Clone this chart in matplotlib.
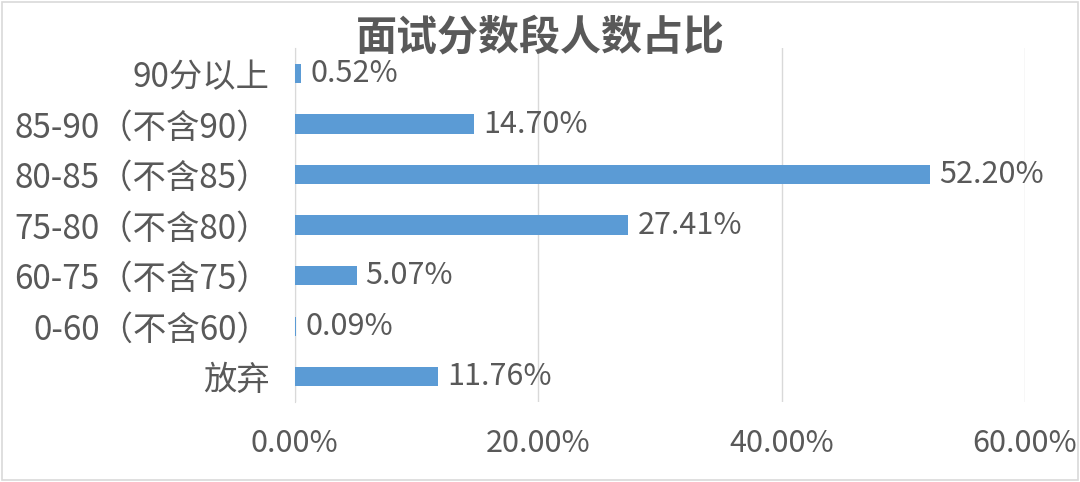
import matplotlib
matplotlib.use("Agg")
import matplotlib.pyplot as plt
from matplotlib.patches import Rectangle

plt.rcParams['font.family'] = ['Noto Sans CJK SC', 'DejaVu Sans']

title = "面试分数段人数占比"
categories = ["90分以上", "85-90（不含90）", "80-85（不含85）", "75-80（不含80）",
              "60-75（不含75）", "0-60（不含60）", "放弃"]
values = [0.52, 14.70, 52.20, 27.41, 5.07, 0.09, 11.76]
xticks = [0, 20, 40, 60]
xtick_labels = ["0.00%", "20.00%", "40.00%", "60.00%"]

text_color = "#595959"
bar_color = "#5B9BD5"

fig = plt.figure(figsize=(10.8, 4.82), dpi=100)
fig.patches.append(Rectangle((0.002, 0.004), 0.996, 0.992, transform=fig.transFigure,
                             fill=False, edgecolor="#D9D9D9", linewidth=1.2))
ax = fig.add_axes([0.273, 0.166, 0.676, 0.734])

ypos = list(range(len(categories)))
ax.barh(ypos, values, height=0.38, color=bar_color, zorder=3)
for y, v in zip(ypos, values):
    ax.text(v + 0.75, y, f"{v:.2f}%", va="center", ha="left",
            fontsize=22, color=text_color)

ax.set_ylim(len(categories) - 0.5, -0.5)
ax.set_xlim(0, 60)
ax.set_yticks(ypos)
ax.set_yticklabels(categories, fontsize=24, color=text_color)
ax.set_xticks(xticks)
ax.set_xticklabels(xtick_labels, fontsize=22, color=text_color)
ax.tick_params(axis="both", length=0)
ax.tick_params(axis="x", pad=19)
ax.tick_params(axis="y", pad=18)
ax.grid(axis="x", color="#D9D9D9", linewidth=1, zorder=0)
for s in ["top", "right", "bottom"]:
    ax.spines[s].set_visible(False)
ax.spines["left"].set_color("#D9D9D9")

fig.text(0.5, 0.923, title, ha="center", va="center", fontsize=29.5,
         color=text_color, fontweight="bold")

fig.savefig("out.png", dpi=100)
